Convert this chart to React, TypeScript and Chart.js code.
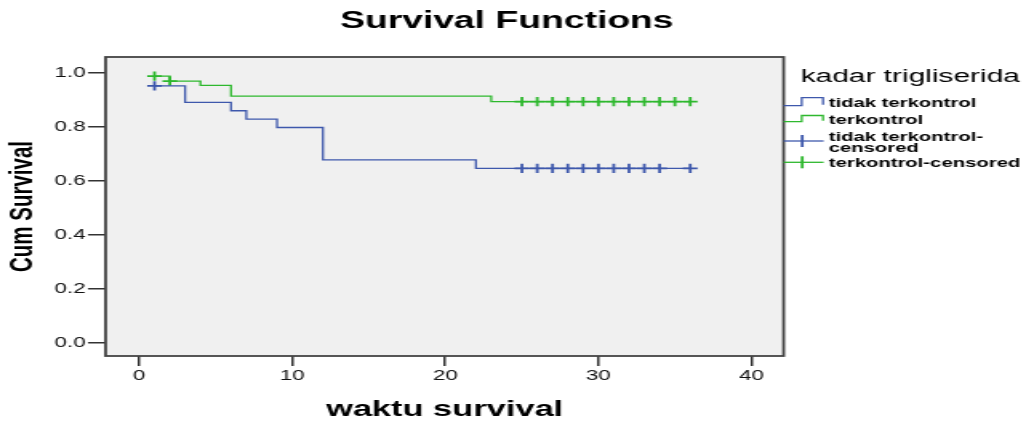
import React, { useEffect, useRef } from "react";
import { Chart, registerables } from "chart.js";

Chart.register(...registerables);

// ---------- text ----------
const chartTitle = "Survival Functions";
const xAxisTitle = "waktu survival";
const yAxisTitle = "Cum Survival";
const legendTitle = "kadar trigliserida";
const legendLabels = ["tidak terkontrol", "terkontrol", "tidak terkontrol-\ncensored", "terkontrol-censored"];

// ---------- data (Kaplan-Meier steps) ----------
const tidakTimes = [1, 3, 6, 7, 9, 12, 22, 36];
const tidakSurvival = [0.951, 0.89, 0.859, 0.828, 0.797, 0.677, 0.646, 0.646];
const terkontrolTimes = [1, 2, 4, 6, 23, 36];
const terkontrolSurvival = [0.987, 0.969, 0.953, 0.913, 0.893, 0.893];

const tidakCensoredTimes = [1, 25, 26, 27, 28, 29, 30, 31, 32, 33, 34, 36];
const tidakCensoredSurvival = [0.951, 0.646, 0.646, 0.646, 0.646, 0.646, 0.646, 0.646, 0.646, 0.646, 0.646, 0.646];
const terkontrolCensoredTimes = [1, 2, 25, 26, 27, 28, 29, 30, 31, 32, 33, 34, 35, 36];
const terkontrolCensoredSurvival = [0.987, 0.969, 0.893, 0.893, 0.893, 0.893, 0.893, 0.893, 0.893, 0.893, 0.893, 0.893, 0.893, 0.893];

// ---------- axes ----------
const xTickValues = [0, 10, 20, 30, 40];
const yTickValues = [0, 0.2, 0.4, 0.6, 0.8, 1.0];
const xRange = [-2.2, 42.1];
const yRange = [-0.049, 1.058];

// ---------- style ----------
const BLUE = "#3E58AC";
const GREEN = "#2EB82E";
const FONT = '"Liberation Sans", Arial, Helvetica, sans-serif';
const CANVAS_W = 641;
const CANVAS_H = 421;
const STRETCH = 1026 / CANVAS_W;

const toPoints = (xs: number[], ys: number[]) => xs.map((x, i) => ({ x, y: ys[i] }));

const framePlugin = {
  id: "spssFrame",
  beforeDraw(chart: any) {
    const { ctx, chartArea: a } = chart;
    ctx.save();
    ctx.fillStyle = "#ffffff";
    ctx.fillRect(0, 0, chart.width, chart.height);
    ctx.fillStyle = "#f0f0f0";
    ctx.fillRect(a.left, a.top, a.right - a.left, a.bottom - a.top);
    ctx.restore();
  },
  afterDatasetsDraw(chart: any) {
    const { ctx, chartArea: a } = chart;
    ctx.save();
    ctx.strokeStyle = "#444444";
    ctx.lineWidth = 1.8;
    ctx.strokeRect(a.left, a.top, a.right - a.left, a.bottom - a.top);
    ctx.restore();
  },
  afterDraw(chart: any) {
    const { ctx, chartArea: a } = chart;
    ctx.save();
    // main title
    ctx.fillStyle = "#000";
    ctx.textAlign = "center";
    ctx.textBaseline = "alphabetic";
    ctx.font = `bold 23.3px ${FONT}`;
    ctx.fillText(chartTitle, 316.6, 28.3);

    // legend
    const L = a.right;
    ctx.textAlign = "left";
    ctx.font = `18.7px ${FONT}`;
    ctx.fillText(legendTitle, L + 10.6, 82);

    ctx.lineWidth = 1.3;
    const step = (color: string, low: number, high: number) => {
      ctx.strokeStyle = color;
      ctx.beginPath();
      ctx.moveTo(L, low);
      ctx.lineTo(L + 11.3, low);
      ctx.lineTo(L + 11.3, high);
      ctx.lineTo(L + 24.6, high);
      ctx.lineTo(L + 24.6, low - 1);
      ctx.stroke();
    };
    const cross = (color: string, y: number) => {
      ctx.strokeStyle = color;
      ctx.beginPath();
      ctx.moveTo(L, y);
      ctx.lineTo(L + 25, y);
      ctx.stroke();
      ctx.lineWidth = 1.8;
      ctx.beginPath();
      ctx.moveTo(L + 11.6, y - 6);
      ctx.lineTo(L + 11.6, y + 6);
      ctx.stroke();
      ctx.lineWidth = 1.3;
    };
    step(BLUE, 105.7, 97.7);
    step(GREEN, 121.7, 115.5);
    cross(BLUE, 141);
    cross(GREEN, 162.3);

    ctx.fillStyle = "#000";
    ctx.font = `bold 12.7px ${FONT}`;
    const tx = L + 28.1;
    ctx.fillText(legendLabels[0], tx, 107);
    ctx.fillText(legendLabels[1], tx, 124);
    const two = legendLabels[2].split("\n");
    ctx.fillText(two[0], tx, 140.5);
    ctx.fillText(two[1], tx, 151.5);
    ctx.fillText(legendLabels[3], tx, 167.3);
    ctx.restore();
  },
};

export default function App() {
  const canvasRef = useRef<HTMLCanvasElement>(null);

  useEffect(() => {
    document.body.style.overflow = "hidden";
    const canvas = canvasRef.current;
    if (!canvas) return;
    const chart = new Chart(canvas, {
      type: "line",
      data: {
        datasets: [
          {
            label: legendLabels[0],
            data: toPoints(tidakTimes, tidakSurvival),
            borderColor: BLUE,
            borderWidth: 1.3,
            stepped: "before",
            pointRadius: 0,
            fill: false,
          },
          {
            label: legendLabels[1],
            data: toPoints(terkontrolTimes, terkontrolSurvival),
            borderColor: GREEN,
            borderWidth: 1.3,
            stepped: "before",
            pointRadius: 0,
            fill: false,
          },
          {
            label: legendLabels[2],
            data: toPoints(tidakCensoredTimes, tidakCensoredSurvival),
            showLine: false,
            pointStyle: "cross",
            pointRadius: 4.6,
            pointBorderWidth: 1.8,
            pointBorderColor: BLUE,
            borderColor: BLUE,
          },
          {
            label: legendLabels[3],
            data: toPoints(terkontrolCensoredTimes, terkontrolCensoredSurvival),
            showLine: false,
            pointStyle: "cross",
            pointRadius: 4.6,
            pointBorderWidth: 1.8,
            pointBorderColor: GREEN,
            borderColor: GREEN,
          },
        ] as any,
      },
      options: {
        animation: false,
        responsive: true,
        maintainAspectRatio: false,
        devicePixelRatio: 1,
        layout: { padding: { top: 57, right: 151.44, bottom: 0, left: 0 } },
        plugins: {
          legend: { display: false },
          title: { display: false },
          tooltip: { enabled: false },
        },
        scales: {
          x: {
            type: "linear",
            min: xRange[0],
            max: xRange[1],
            afterBuildTicks: (s: any) => {
              s.ticks = xTickValues.map((v) => ({ value: v }));
            },
            afterFit: (s: any) => {
              s.height = 65;
            },
            border: { display: false },
            grid: {
              drawOnChartArea: false,
              drawTicks: true,
              tickLength: 10,
              tickColor: "#333",
              lineWidth: 1.5,
            },
            ticks: {
              color: "#111",
              font: { family: FONT, size: 14 },
              padding: 2,
              maxRotation: 0,
              callback: (v: any) => String(v),
            },
            title: {
              display: true,
              text: xAxisTitle,
              color: "#000",
              font: { family: FONT, size: 21.5, weight: "bold", lineHeight: 1 },
              padding: { top: 0, bottom: 0 },
            },
          },
          y: {
            type: "linear",
            min: yRange[0],
            max: yRange[1],
            afterBuildTicks: (s: any) => {
              s.ticks = yTickValues.map((v) => ({ value: v }));
            },
            afterFit: (s: any) => {
              s.width = 65.94;
            },
            border: { display: false },
            grid: {
              drawOnChartArea: false,
              drawTicks: true,
              tickLength: 11,
              tickColor: "#333",
              lineWidth: 1.5,
            },
            ticks: {
              color: "#111",
              font: { family: FONT, size: 14 },
              padding: 1.5,
              callback: (v: any) => Number(v).toFixed(1),
            },
            title: {
              display: true,
              text: yAxisTitle,
              color: "#000",
              font: { family: FONT, size: 20.5, weight: "bold", lineHeight: 1 },
              padding: { top: 4.3, bottom: 0 },
            },
          },
        },
      } as any,
      plugins: [framePlugin],
    });
    return () => chart.destroy();
  }, []);

  return (
    <div
      style={{
        position: "absolute",
        left: 0,
        top: 0,
        width: 1026,
        height: 421,
        overflow: "hidden",
        background: "#fff",
      }}
    >
      <div
        style={{
          position: "relative",
          width: CANVAS_W,
          height: CANVAS_H,
          transform: `scaleX(${STRETCH})`,
          transformOrigin: "0 0",
        }}
      >
        <canvas ref={canvasRef} />
      </div>
    </div>
  );
}
